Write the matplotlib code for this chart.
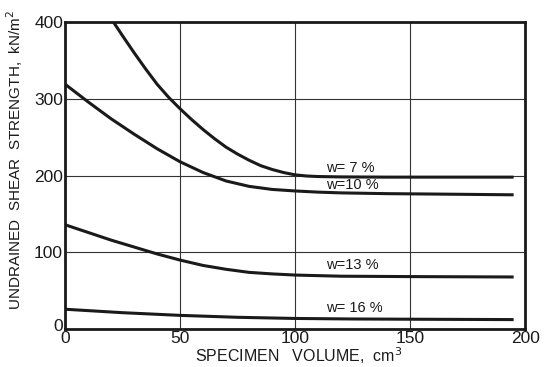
import matplotlib
matplotlib.use('Agg')
import matplotlib.pyplot as plt
from matplotlib.transforms import ScaledTranslation

plt.rcParams['font.family'] = ['Liberation Sans', 'DejaVu Sans']

# specimen volume (cm3) vs undrained shear strength (kN/m2), one curve per water content
w7_x = [21, 25, 30, 35, 40, 45, 50, 55, 60, 65, 70, 75, 80, 85, 90, 95, 100, 105, 110, 120, 140, 195]
w7_y = [400, 382, 360, 339, 319, 302, 287, 273, 260, 248, 237, 228, 220, 213, 208, 204, 201, 199.5, 198.8, 198.3, 198, 198]

w10_x = [0, 10, 20, 30, 40, 50, 60, 70, 80, 90, 100, 110, 120, 140, 160, 195]
w10_y = [319, 296, 274, 254, 235, 218, 204, 193, 186, 182, 180, 178.5, 177.5, 176.5, 176, 175]

w13_x = [0, 10, 20, 30, 40, 50, 60, 70, 80, 90, 100, 120, 150, 195]
w13_y = [136, 126, 116, 107, 98, 90, 83, 78, 74, 72, 70.5, 69, 68.5, 68]

w16_x = [0, 25, 50, 75, 100, 125, 150, 195]
w16_y = [26, 21.5, 18, 15.5, 14, 13.3, 13, 12.5]

curves = [(w7_x, w7_y), (w10_x, w10_y), (w13_x, w13_y), (w16_x, w16_y)]
labels = ['w= 7 %', 'w=10 %', 'w=13 %', 'w= 16 %']
label_y = [210, 188, 84, 28]

fig = plt.figure(figsize=(5.47, 3.67), dpi=100)
ax = fig.add_axes([0.119, 0.103, 0.841, 0.837])

for cx, cy in curves:
    ax.plot(cx, cy, color='#1a1a1a', lw=2.2, solid_capstyle='butt', zorder=3)

for lbl, ly in zip(labels, label_y):
    ax.text(113.5, ly, lbl, fontsize=10.5, color='#1a1a1a', ha='left', va='center')

ax.set_xlim(0, 200)
ax.set_ylim(0, 400)
ax.set_xticks([0, 50, 100, 150, 200])
ax.set_yticks([0, 100, 200, 300, 400])
ax.grid(True, color='#333333', lw=0.8)
ax.tick_params(length=0, labelsize=12.5, colors='#1a1a1a')
ax.tick_params(axis='x', pad=1.5)
ax.tick_params(axis='y', pad=1.5)
for s in ax.spines.values():
    s.set_linewidth(2.0)
    s.set_color('#1a1a1a')

# lift the y "0" a little so it clears the x "0"
zero = ax.get_yticklabels()[0]
zero.set_transform(zero.get_transform() + ScaledTranslation(0, 3 / 72, fig.dpi_scale_trans))

fig.text(299 / 547, 1 - 356 / 367, 'SPECIMEN   VOLUME,  cm$^3$', fontsize=11.5,
         color='#1a1a1a', ha='center', va='center')
fig.text(15 / 547, 1 - 160 / 367, 'UNDRAINED  SHEAR  STRENGTH,  kN/m$^2$', fontsize=11,
         color='#1a1a1a', ha='center', va='center', rotation=90)

fig.savefig('out.png', dpi=100, facecolor='white')
